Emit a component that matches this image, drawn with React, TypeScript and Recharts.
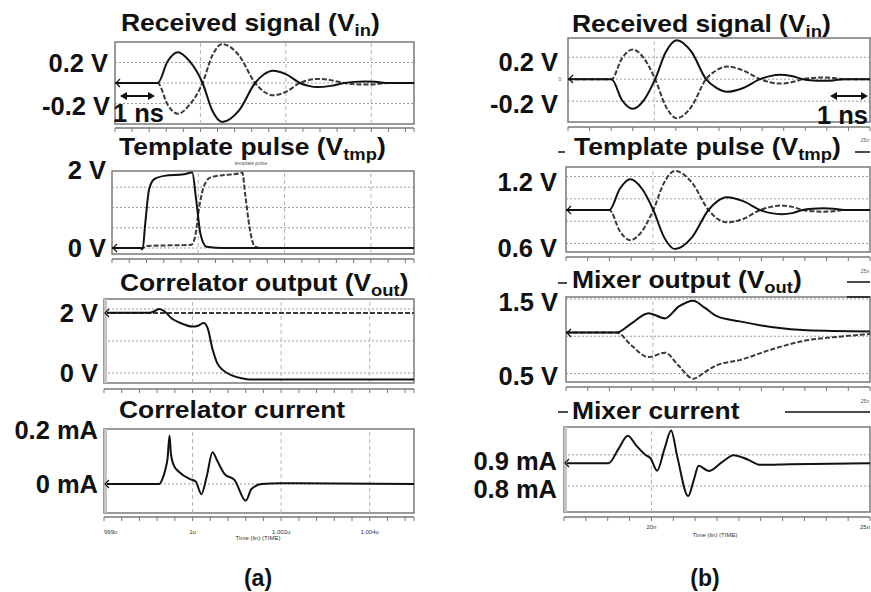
import React from "react";
import { LineChart, Line, XAxis, YAxis, ReferenceLine, ReferenceArea } from "recharts";

// ---- (a) correlator: time in ns, 0 = 1u ----
const rxATime = [-2, -1.0, -0.77, -0.53, -0.25, 0.05, 0.28, 0.51, 0.9, 1.28, 1.49, 1.7, 2.01, 2.33, 2.53, 2.74, 3.05, 3.37, 3.6, 3.84, 4.1, 4.4, 5];
const rxASolid = [0, 0, 0.21, 0.3, 0.21, 0, -0.27, -0.38, -0.27, 0, 0.085, 0.12, 0.085, 0, -0.028, -0.04, -0.028, 0, 0.011, 0.015, 0.011, 0, 0];
const rxADashed = [0, 0, -0.21, -0.3, -0.21, 0, 0.27, 0.38, 0.27, 0, -0.085, -0.12, -0.085, 0, 0.028, 0.04, 0.028, 0, -0.011, -0.015, -0.011, 0, 0];

const tmpASolidTime = [-2, -1.35, -1.29, -1.23, -1.14, -1.02, -0.79, -0.33, -0.14, -0.05, 0.05, 0.19, 0.6, 5];
const tmpASolid = [0, 0, -0.03, 0.6, 1.45, 1.7, 1.78, 1.82, 1.86, 1.2, 0.35, 0.03, 0, 0];
const tmpADashedTime = [-2, -1.3, -1.2, -0.16, -0.07, 0.02, 0.14, 0.3, 0.6, 0.95, 1.02, 1.09, 1.19, 1.3, 1.42, 5];
const tmpADashed = [0, 0, 0.05, 0.08, 0.3, 1.0, 1.55, 1.75, 1.8, 1.84, 1.86, 1.3, 0.5, 0.05, 0, 0];

const outASolidTime = [-2, -0.97, -0.86, -0.75, -0.63, -0.47, -0.29, 0, 0.11, 0.25, 0.34, 0.45, 0.56, 0.68, 0.9, 1.13, 1.29, 5];
const outASolid = [1.88, 1.88, 1.93, 2.0, 1.92, 1.7, 1.57, 1.45, 1.47, 1.56, 1.4, 0.75, 0.3, 0.1, -0.08, -0.17, -0.2, -0.2];
const outADashedTime = [-2, 5];
const outADashed = [1.87, 1.87];

const curATime = [-2, -0.75, -0.68, -0.61, -0.565, -0.52, -0.49, -0.43, -0.29, -0.07, 0.07, 0.2, 0.32, 0.45, 0.56, 0.72, 0.95, 1.2, 1.33, 1.56, 1.97, 5];
const curA = [0, 0, 0.02, 0.06, 0.1, 0.19, 0.12, 0.075, 0.045, 0.02, 0.01, -0.04, 0.03, 0.125, 0.09, 0.04, 0.015, -0.066, -0.02, 0, 0.003, 0];

// ---- (b) mixer: time in ns ----
const rxBTime = [18, 19.01, 19.25, 19.5, 19.76, 20.02, 20.27, 20.52, 20.86, 21.2, 21.44, 21.68, 22.06, 22.45, 22.68, 22.92, 23.18, 23.45, 23.67, 23.9, 24.15, 24.4, 25];
const rxBSolid = [0, 0, -0.19, -0.27, -0.19, 0, 0.25, 0.355, 0.25, 0, -0.08, -0.115, -0.08, 0, 0.028, 0.04, 0.028, 0, -0.011, -0.015, -0.011, 0, 0];
const rxBDashed = [0, 0, 0.19, 0.27, 0.19, 0, -0.25, -0.355, -0.25, 0, 0.08, 0.115, 0.08, 0, -0.028, -0.04, -0.028, 0, 0.011, 0.015, 0.011, 0, 0];

const tmpBTime = [18, 19.0, 19.24, 19.48, 19.75, 20.01, 20.26, 20.51, 20.9, 21.28, 21.49, 21.7, 22.08, 22.47, 22.72, 22.97, 23.21, 23.45, 23.68, 23.92, 24.16, 24.4, 25];
const tmpBSolid = [0.9, 0.9, 1.09, 1.175, 1.09, 0.9, 0.655, 0.55, 0.655, 0.9, 0.98, 1.015, 0.98, 0.9, 0.872, 0.862, 0.872, 0.9, 0.911, 0.915, 0.911, 0.9, 0.9];
const tmpBDashed = [0.9, 0.9, 0.71, 0.63, 0.71, 0.9, 1.145, 1.25, 1.145, 0.9, 0.82, 0.79, 0.82, 0.9, 0.928, 0.94, 0.928, 0.9, 0.889, 0.885, 0.889, 0.9, 0.9];

const outBSolidTime = [18, 19.17, 19.5, 19.9, 20.28, 20.6, 20.93, 21.2, 21.47, 22.0, 22.77, 23.54, 25];
const outBSolid = [1.05, 1.05, 1.17, 1.31, 1.24, 1.4, 1.477, 1.38, 1.27, 1.2, 1.12, 1.08, 1.065];
const outBDashedTime = [18, 19.17, 19.5, 19.9, 20.28, 20.6, 20.93, 21.2, 21.47, 22.0, 22.77, 23.54, 24.3, 25];
const outBDashed = [1.05, 1.05, 0.88, 0.72, 0.78, 0.6, 0.43, 0.52, 0.61, 0.68, 0.83, 0.945, 0.995, 1.03];

const curBTime = [18, 19.02, 19.25, 19.46, 19.65, 19.86, 19.98, 20.13, 20.3, 20.45, 20.59, 20.84, 20.97, 21.08, 21.31, 21.6, 21.88, 22.2, 22.49, 23.18, 25];
const curB = [0.873, 0.873, 0.92, 0.961, 0.93, 0.9, 0.889, 0.849, 0.92, 0.978, 0.895, 0.768, 0.82, 0.865, 0.848, 0.875, 0.899, 0.885, 0.868, 0.87, 0.873];

// time axis labels (bottom panels only)
const tickAtA = [-2, 0, 2, 4];
const tickTextA = ["999n", "1u", "1.002u", "1.004u"];
const tickAtB = [20, 25];
const tickTextB = ["20n", "25n"];

const FONT = '"Liberation Sans", Arial, Helvetica, sans-serif';
const INK = "#111";

type Pt = { t: number; v: number };
const zip = (ts: number[], vs: number[]): Pt[] => ts.map((t, i) => ({ t, v: vs[i] }));

const minorA = [...Array.from({ length: 18 }, (_, i) => Math.round((-2 + i * 0.4) * 10) / 10), 5];
const minorB = Array.from({ length: 15 }, (_, i) => 18 + i * 0.5);

type Series = { data: Pt[]; dashed?: boolean };
type PanelDef = {
  box: [number, number, number, number]; // left, right, top, bottom (px)
  axisY: number;
  x: [number, number];
  y: [number, number]; // value at box bottom, box top
  minor: number[];
  gridX: number[];
  gridY: number[];
  series: Series[];
  tickAt?: number[];
  tickText?: string[];
  tickDy?: number;
};

const panels: PanelDef[] = [
  {
    box: [115, 414, 42, 124], axisY: 128, x: [-2, 5], y: [-0.4, 0.4], minor: minorA,
    gridX: [0, 2, 4], gridY: [-0.2, 0, 0.2],
    series: [{ data: zip(rxATime, rxADashed), dashed: true }, { data: zip(rxATime, rxASolid) }],
  },
  {
    box: [112, 414, 171, 254], axisY: 259, x: [-2, 5], y: [-0.148, 1.9], minor: minorA,
    gridX: [0, 2, 4], gridY: [0, 0.5, 1, 1.5],
    series: [{ data: zip(tmpADashedTime, tmpADashed), dashed: true }, { data: zip(tmpASolidTime, tmpASolid) }],
  },
  {
    box: [104, 414, 299, 383], axisY: 389, x: [-2, 5], y: [-0.31, 2.31], minor: minorA,
    gridX: [0, 2, 4], gridY: [0, 1, 2],
    series: [{ data: zip(outADashedTime, outADashed), dashed: true }, { data: zip(outASolidTime, outASolid) }],
  },
  {
    box: [104, 414, 429, 513], axisY: 517, x: [-2, 5], y: [-0.114, 0.216], minor: minorA,
    gridX: [0, 2, 4], gridY: [0],
    series: [{ data: zip(curATime, curA) }],
    tickAt: tickAtA, tickText: tickTextA, tickDy: 11,
  },
  {
    box: [568, 870, 38, 122], axisY: 127, x: [18, 25], y: [-0.39, 0.375], minor: minorB,
    gridX: [20], gridY: [-0.2, 0, 0.2],
    series: [{ data: zip(rxBTime, rxBDashed), dashed: true }, { data: zip(rxBTime, rxBSolid) }],
  },
  {
    box: [566, 870, 167, 252], axisY: 257, x: [18, 25], y: [0.524, 1.285], minor: minorB,
    gridX: [20], gridY: [0.6, 0.8, 1.0, 1.2],
    series: [{ data: zip(tmpBTime, tmpBDashed), dashed: true }, { data: zip(tmpBTime, tmpBSolid) }],
  },
  {
    box: [566, 870, 297, 382], axisY: 387, x: [18, 25], y: [0.386, 1.527], minor: minorB,
    gridX: [20], gridY: [0.5, 1.0, 1.5],
    series: [{ data: zip(outBDashedTime, outBDashed), dashed: true }, { data: zip(outBSolidTime, outBSolid) }],
  },
  {
    box: [564, 870, 427, 512], axisY: 517, x: [18, 25], y: [0.717, 0.989], minor: minorB,
    gridX: [20], gridY: [0.8, 0.9],
    series: [{ data: zip(curBTime, curB) }],
    tickAt: tickAtB, tickText: tickTextB, tickDy: 6,
  },
];

function Panel({ p }: { p: PanelDef }) {
  const [l, r, t, b] = p.box;
  const axisH = p.tickAt ? 32 : 6;
  const [y0, y1] = p.y;
  const yExt = y0 - ((p.axisY - b) * (y1 - y0)) / (b - t);
  const W = r - l + 2;
  const H = p.axisY - t + 1 + axisH;

  const tick = (props: any) => {
    const { x, y, payload } = props;
    const i = p.tickAt ? p.tickAt.indexOf(payload.value) : -1;
    if (i < 0) return <g />;
    const anchor = payload.value === p.x[0] ? "start" : payload.value === p.x[1] ? "end" : "middle";
    return (
      <text x={x} y={y + (p.tickDy ?? 8)} fontSize={6} textAnchor={anchor} fill="#333" fontFamily={FONT}>
        {p.tickText![i]}
      </text>
    );
  };

  return (
    <div style={{ position: "absolute", left: l - 1, top: t - 1 }}>
      <LineChart width={W} height={H} margin={{ top: 1, right: 1, bottom: 0, left: 1 }}>
        <XAxis
          type="number"
          dataKey="t"
          domain={p.x}
          ticks={p.minor}
          interval={0}
          allowDataOverflow
          height={axisH}
          tickSize={4}
          axisLine={{ stroke: "#777", strokeWidth: 1.5 }}
          tickLine={{ stroke: "#777" }}
          tick={tick}
        />
        <YAxis type="number" domain={[yExt, y1]} hide allowDataOverflow />
        {p.gridY.map((g) => (
          <ReferenceLine key={"gy" + g} y={g} stroke="#9a9a9a" strokeDasharray="2 2" />
        ))}
        {p.gridX.map((g) => (
          <ReferenceLine
            key={"gx" + g}
            segment={[{ x: g, y: y0 }, { x: g, y: y1 }]}
            stroke="#b5b5b5"
            strokeDasharray="4 3"
          />
        ))}
        <ReferenceArea x1={p.x[0]} x2={p.x[1]} y1={y0} y2={y1} fill="none" stroke="#7a7a7a" strokeWidth={1.5} />
        {p.series.map((s, i) => (
          <Line
            key={i}
            data={s.data}
            dataKey="v"
            type="monotone"
            dot={false}
            stroke={s.dashed ? "#3a3a3a" : INK}
            strokeWidth={2}
            strokeDasharray={s.dashed ? "5 2" : undefined}
            isAnimationActive={false}
          />
        ))}
      </LineChart>
    </div>
  );
}

const titles = [
  { x: 121, y: 31, main: "Received signal (V", sub: "in" },
  { x: 119, y: 154.5, main: "Template pulse (V", sub: "tmp" },
  { x: 120, y: 291, main: "Correlator output (V", sub: "out" },
  { x: 119, y: 418, main: "Correlator current" },
  { x: 572, y: 31.5, main: "Received signal (V", sub: "in" },
  { x: 574, y: 155, main: "Template pulse (V", sub: "tmp" },
  { x: 572, y: 288, main: "Mixer output (V", sub: "out" },
  { x: 572, y: 419, main: "Mixer current" },
];

const yLabels: [string, number, number][] = [
  ["0.2 V", 108, 71.5],
  ["-0.2 V", 110, 115],
  ["2 V", 106, 178.5],
  ["0 V", 106, 257],
  ["2 V", 98, 322],
  ["0 V", 98, 382],
  ["0.2 mA", 98, 439],
  ["0 mA", 98, 492.5],
  ["0.2 V", 558, 71],
  ["-0.2 V", 558, 113],
  ["1.2 V", 557, 190.5],
  ["0.6 V", 557, 256.5],
  ["1.5 V", 558, 311],
  ["0.5 V", 558, 385],
  ["0.9 mA", 557, 470],
  ["0.8 mA", 557, 498],
];

const lineStarts: [number, number][] = [
  [116, 83], [113, 248], [105, 313], [105, 484],
  [569, 79], [567, 210], [567, 333], [565, 463],
];

const titleDashes: [number, number, number][] = [
  [558, 565, 152], [855, 870, 152],
  [558, 567, 283], [847, 870, 282], [847, 870, 297],
  [558, 568, 412], [785, 870, 412],
];

function DArrow({ x1, x2, y }: { x1: number; x2: number; y: number }) {
  return (
    <g>
      <line x1={x1 + 4} x2={x2 - 4} y1={y} y2={y} stroke={INK} strokeWidth={2} />
      <polygon points={`${x1},${y} ${x1 + 7},${y - 4} ${x1 + 7},${y + 4}`} fill={INK} />
      <polygon points={`${x2},${y} ${x2 - 7},${y - 4} ${x2 - 7},${y + 4}`} fill={INK} />
    </g>
  );
}

export default function App() {
  return (
    <div style={{ position: "absolute", left: 0, top: 0, width: 871, height: 592, background: "#fff", overflow: "hidden" }}>
      {panels.map((p, i) => (
        <Panel key={i} p={p} />
      ))}
      <svg width={871} height={592} style={{ position: "absolute", left: 0, top: 0, pointerEvents: "none" }} fontFamily={FONT}>
        {/* grey bar on the left edge of some plots */}
        <rect x={104} y={299} width={3} height={84} fill="#c4c4c4" />
        <rect x={104} y={429} width={3} height={84} fill="#c4c4c4" />
        <rect x={564} y={427} width={3} height={85} fill="#c4c4c4" />

        {lineStarts.map(([x, y], i) => (
          <polyline key={i} points={`${x + 4},${y - 4} ${x},${y} ${x + 4},${y + 4}`} fill="none" stroke={INK} strokeWidth={1.2} />
        ))}

        {titles.map((tt, i) => (
          <text key={i} transform={`translate(${tt.x},${tt.y}) scale(1.15,1)`} fontSize={23} fontWeight="bold" fill={INK}>
            {tt.main}
            {tt.sub && (
              <>
                <tspan fontSize={16} dy={5}>{tt.sub}</tspan>
                <tspan dy={-5}>)</tspan>
              </>
            )}
          </text>
        ))}

        {titleDashes.map(([a, c, y], i) => (
          <line key={i} x1={a} x2={c} y1={y} y2={y} stroke={INK} strokeWidth={1.5} />
        ))}

        {yLabels.map(([s, x, y], i) => (
          <text key={i} x={x} y={y} textAnchor="end" fontSize={25.5} fontWeight="bold" fill={INK}>
            {s}
          </text>
        ))}

        <DArrow x1={120} x2={155} y={96} />
        <text x={113} y={121.5} fontSize={25.5} fontWeight="bold" fill={INK}>1 ns</text>
        <DArrow x1={830} x2={868} y={96} />
        <text x={868} y={123.5} textAnchor="end" fontSize={25.5} fontWeight="bold" fill={INK}>1 ns</text>

        <text x={258} y={539.5} textAnchor="middle" fontSize={6} fill="#333">Time (lin) (TIME)</text>
        <text x={715} y={537} textAnchor="middle" fontSize={6} fill="#333">Time (lin) (TIME)</text>
        <text x={251} y={165} textAnchor="middle" fontSize={5} fill="#555">template pulse</text>
        <text x={560} y={81} textAnchor="middle" fontSize={5} fill="#555">0</text>
        <text x={865} y={142} textAnchor="middle" fontSize={5} fill="#555">25n</text>
        <text x={865} y={273} textAnchor="middle" fontSize={5} fill="#555">25n</text>
        <text x={865} y={403} textAnchor="middle" fontSize={5} fill="#555">25n</text>

        <text x={258} y={586} textAnchor="middle" fontSize={23} fontWeight="bold" fill={INK}>(a)</text>
        <text x={705} y={586} textAnchor="middle" fontSize={23} fontWeight="bold" fill={INK}>(b)</text>
      </svg>
    </div>
  );
}
